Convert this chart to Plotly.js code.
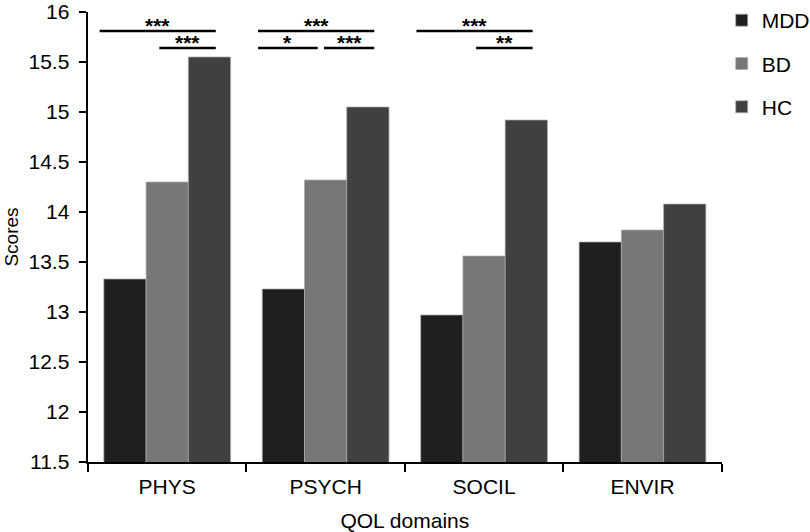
<!DOCTYPE html>
<html>
<head>
<meta charset="utf-8">
<script src="https://cdn.plot.ly/plotly-3.0.1.min.js"></script>
<style>html,body{margin:0;padding:0;background:#fff;}#chart{width:810px;height:532px;}</style>
</head>
<body>
<div id="chart"></div>
<script>
// ---- data ----
const domains = ["PHYS", "PSYCH", "SOCIL", "ENVIR"];
const groups = ["MDD", "BD", "HC"];
const mddScores = [13.33, 13.23, 12.97, 13.70];
const bdScores  = [14.30, 14.32, 13.56, 13.82];
const hcScores  = [15.55, 15.05, 14.92, 14.08];
// significance comparisons: domain index, group A, group B, label, bracket level
const sigDomain = [0, 0, 1, 1, 1, 2, 2];
const sigGroupA = [0, 1, 0, 0, 1, 0, 1];
const sigGroupB = [2, 2, 2, 1, 2, 2, 2];
const sigLabel  = ["***", "***", "***", "*", "***", "***", "**"];
const sigLevel  = [0, 1, 0, 1, 1, 0, 1];

// ---- styles ----
const FONT = "Liberation Sans, Arial, sans-serif";
const colors = ["#1f1f1f", "#777777", "#404040"];
const seriesVals = [mddScores, bdScores, hcScores];

const traces = groups.map((g, i) => ({
  type: "bar",
  name: g,
  x: domains,
  y: seriesVals[i],
  legendgroup: g,
  marker: {color: colors[i], line: {color: "rgba(170,170,170,0.9)", width: 0.8}},
  hoverinfo: "x+y+name"
}));

const bargap = 0.2;
const barW = (1 - bargap) / groups.length;
const levelY = [15.81, 15.64];
const shapes = [], annotations = [];
for (let k = 0; k < sigDomain.length; k++) {
  const c = sigDomain[k];
  const ca = c + (sigGroupA[k] - 1) * barW;
  const cb = c + (sigGroupB[k] - 1) * barW;
  let shared = false;
  for (let j = 0; j < sigDomain.length; j++) {
    if (j !== k && sigDomain[j] === c && sigLevel[j] === sigLevel[k] && sigGroupB[j] === sigGroupA[k]) shared = true;
  }
  const x0 = ca - (sigGroupA[k] === 0 ? 0.16 : (shared ? 0.01 : 0.05));
  const x1 = cb + (sigGroupB[k] === 2 ? 0.04 : -0.05);
  const y = levelY[sigLevel[k]];
  shapes.push({type: "line", xref: "x", yref: "y", x0: x0, x1: x1, y0: y, y1: y,
    line: {color: "#000", width: 2.4}});
  annotations.push({xref: "x", yref: "y", x: (x0 + x1) / 2, y: y, yanchor: "bottom",
    yshift: -8, text: "<b>" + sigLabel[k] + "</b>", showarrow: false,
    font: {family: FONT, size: 21, color: "#000"}});
}

const layout = {
  width: 810, height: 532,
  margin: {l: 88, r: 84, t: 12, b: 70},
  paper_bgcolor: "#fff", plot_bgcolor: "#fff",
  barmode: "group", bargap: bargap, bargroupgap: 0,
  font: {family: FONT, size: 20, color: "#000"},
  showlegend: true,
  legend: {xref: "container", yref: "container", x: 0.891, y: 1, xanchor: "left", yanchor: "top",
    traceorder: "grouped", tracegroupgap: 13, font: {family: FONT, size: 21, color: "#000"}, itemwidth: 30},
  xaxis: {
    type: "category", tickson: "boundaries", ticks: "outside", ticklen: 8, tickwidth: 2,
    tickcolor: "#000", showline: true, linecolor: "#000", linewidth: 2, showgrid: false,
    zeroline: false, automargin: false, ticklabelstandoff: 5,
    tickfont: {family: FONT, size: 21, color: "#000"},
    title: {text: "QOL domains", standoff: 16, font: {family: FONT, size: 21, color: "#000"}}
  },
  yaxis: {
    range: [11.5, 16], dtick: 0.5, tick0: 11.5, ticks: "outside", ticklen: 7, tickwidth: 2,
    tickcolor: "#000", showline: true, linecolor: "#000", linewidth: 2.4, showgrid: false,
    zeroline: false, automargin: false, ticklabelstandoff: 5,
    tickfont: {family: FONT, size: 21, color: "#000"},
    title: {text: "Scores", standoff: 5, font: {family: FONT, size: 19, color: "#000"}}
  },
  shapes: shapes,
  annotations: annotations
};

Plotly.newPlot("chart", traces, layout, {displayModeBar: false, staticPlot: true});
</script>
</body>
</html>
